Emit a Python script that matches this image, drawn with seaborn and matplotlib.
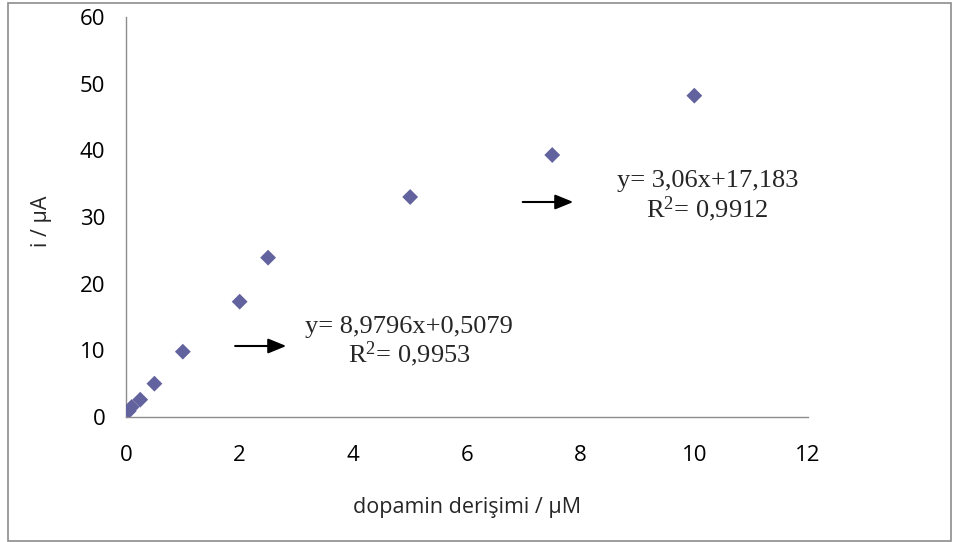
import matplotlib
matplotlib.use("Agg")
import matplotlib.pyplot as plt
from matplotlib.patches import Rectangle
import seaborn as sns
import pandas as pd

# Dopamine concentration (µM) and measured current (µA)
concentration = [0.05, 0.1, 0.25, 0.5, 1, 2, 2.5, 5, 7.5, 10]
current = [0.9, 1.5, 2.6, 5.0, 9.8, 17.3, 23.9, 33.0, 39.3, 48.2]

x_ticks = [0, 2, 4, 6, 8, 10, 12]
y_ticks = [0, 10, 20, 30, 40, 50, 60]

fit_low = ["y= 8,9796x+0,5079", r"R$^{2}$= 0,9953"]
fit_high = ["y= 3,06x+17,183", r"R$^{2}$= 0,9912"]

sns.set_style("white")
plt.rcParams["font.family"] = ["Open Sans", "DejaVu Sans"]
plt.rcParams["mathtext.fontset"] = "custom"
plt.rcParams["mathtext.rm"] = "Liberation Serif"
plt.rcParams["mathtext.it"] = "Liberation Serif"
plt.rcParams["mathtext.bf"] = "Liberation Serif"
plt.rcParams["mathtext.default"] = "regular"

df = pd.DataFrame({"c": concentration, "i": current})

fig = plt.figure(figsize=(9.6, 5.42), dpi=100)
ax = fig.add_axes([126 / 960, 1 - 417 / 542, 682 / 960, 400 / 542])

sns.scatterplot(data=df, x="c", y="i", ax=ax, marker="D", s=65,
                color="#62629E", edgecolor="none", legend=False, zorder=3)

ax.set_xlim(0, 12)
ax.set_ylim(0, 60)
ax.set_xticks(x_ticks)
ax.set_yticks(y_ticks)
ax.set_xticklabels([str(t) for t in x_ticks])
ax.set_yticklabels([str(t) for t in y_ticks])

for side in ("top", "right"):
    ax.spines[side].set_visible(False)
for side in ("left", "bottom"):
    ax.spines[side].set_color("#8C8C8C")
    ax.spines[side].set_linewidth(1.0)

ax.tick_params(axis="both", which="major", direction="out", length=5,
               width=1, color="#8C8C8C", labelsize=16, labelcolor="black")
ax.tick_params(axis="x", pad=15)
ax.tick_params(axis="y", pad=10)

ax.set_xlabel("dopamin derişimi / µM", fontsize=15.5)
ax.set_ylabel("i / µA", fontsize=15.5)
ax.xaxis.set_label_coords(0.5, -0.2)
ax.yaxis.set_label_coords(-0.108, 0.49)

# Annotations for the two linear regions
serif = ["Liberation Serif", "DejaVu Serif"]
arrow = dict(arrowstyle="-|>,head_length=1.1,head_width=0.45",
             color="black", lw=1.5, shrinkA=0, shrinkB=0)

ax.annotate("", xy=(2.82, 10.65), xytext=(1.92, 10.65), arrowprops=arrow)
ax.text(4.98, 13.5, fit_low[0], ha="center", va="center", fontsize=19, family=serif)
ax.text(4.98, 9.4, fit_low[1], ha="center", va="center", fontsize=19, family=serif)

ax.annotate("", xy=(7.87, 32.25), xytext=(6.98, 32.25), arrowprops=arrow)
ax.text(10.23, 35.4, fit_high[0], ha="center", va="center", fontsize=19, family=serif)
ax.text(10.23, 31.2, fit_high[1], ha="center", va="center", fontsize=19, family=serif)

# Chart area border
fig.patches.append(Rectangle((8 / 960, 1.5 / 542), 943 / 960, 538 / 542,
                             transform=fig.transFigure, fill=False,
                             edgecolor="#8C8C8C", linewidth=1.2))

fig.savefig("out.png", dpi=100, facecolor="white")
